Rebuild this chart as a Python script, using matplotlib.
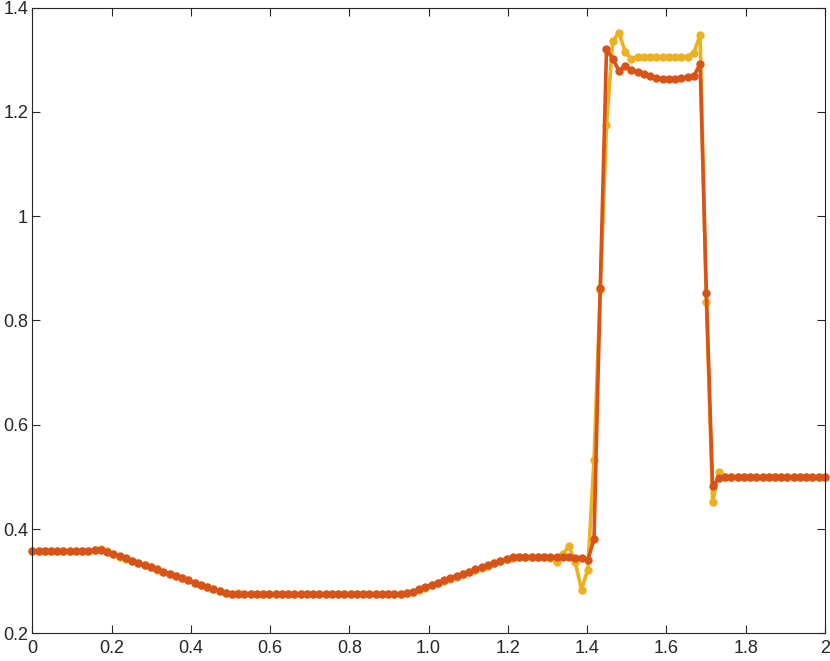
import numpy as np
import matplotlib.pyplot as plt

plt.rcParams['font.family'] = ['Liberation Sans', 'DejaVu Sans']

# grid: 128 points from 0 to 2
x = np.linspace(0, 2, 128)

# yellow series (drawn first)
y_yellow = [0.358, 0.358, 0.358, 0.358, 0.358, 0.358, 0.358, 0.358, 0.358, 0.358,
            0.360, 0.361,
            0.357, 0.352, 0.347, 0.343, 0.339, 0.335, 0.331, 0.3265, 0.3222, 0.318,
            0.314, 0.3097, 0.3055, 0.3013, 0.297, 0.2929, 0.2887, 0.2848, 0.2808, 0.2775, 0.2755,
            0.2772, 0.2760, 0.2757, 0.2757, 0.2757, 0.2757, 0.2757, 0.2757, 0.2757, 0.2757,
            0.2757, 0.2757, 0.2757, 0.2757, 0.2757, 0.2757, 0.2757, 0.2757, 0.2757, 0.2757,
            0.2757, 0.2757, 0.2757, 0.2757, 0.2757, 0.2757, 0.2757,
            0.2775, 0.2790, 0.2830, 0.2878, 0.2920, 0.2962, 0.3004, 0.3046, 0.3088, 0.3130,
            0.3172, 0.3214, 0.3256, 0.3298, 0.3340, 0.3380, 0.3418, 0.3450,
            0.3468, 0.3470, 0.3472, 0.3468, 0.3462, 0.3450,
            0.336, 0.352, 0.367, 0.336, 0.284, 0.322, 0.533, 0.858,
            1.174, 1.336, 1.352, 1.315, 1.301, 1.306, 1.306, 1.306, 1.306, 1.306,
            1.306, 1.306, 1.306, 1.306, 1.314, 1.347,
            0.835, 0.451, 0.510,
            0.500, 0.500, 0.500, 0.500, 0.500, 0.500, 0.500, 0.500, 0.500, 0.500,
            0.500, 0.500, 0.500, 0.500, 0.500, 0.500, 0.500]

# red series (on top)
y_red = [0.358, 0.358, 0.358, 0.358, 0.358, 0.358, 0.358, 0.358, 0.358, 0.358,
         0.359, 0.360,
         0.356, 0.352, 0.348, 0.3435, 0.3393, 0.3351, 0.3309, 0.3267, 0.3225, 0.3183,
         0.3141, 0.3099, 0.3057, 0.3015, 0.2973, 0.2931, 0.2890, 0.2850, 0.2812, 0.2780, 0.2762,
         0.2757, 0.2757, 0.2757, 0.2757, 0.2757, 0.2757, 0.2757, 0.2757, 0.2757, 0.2757,
         0.2757, 0.2757, 0.2757, 0.2757, 0.2757, 0.2757, 0.2757, 0.2757, 0.2757, 0.2757,
         0.2757, 0.2757, 0.2757, 0.2757, 0.2757, 0.2757, 0.2757,
         0.2765, 0.2800, 0.2845, 0.2890, 0.2932, 0.2974, 0.3016, 0.3058, 0.3100, 0.3142,
         0.3184, 0.3226, 0.3268, 0.3310, 0.3350, 0.3390, 0.3425, 0.3455,
         0.3465, 0.3465, 0.3465, 0.3465, 0.3465, 0.3463, 0.3460, 0.3458, 0.3455, 0.3452, 0.3450,
         0.340, 0.381, 0.862,
         1.320, 1.302, 1.279, 1.289, 1.280, 1.276, 1.272, 1.269, 1.266, 1.264,
         1.264, 1.264, 1.265, 1.267, 1.269, 1.292,
         0.852, 0.482, 0.497,
         0.500, 0.500, 0.500, 0.500, 0.500, 0.500, 0.500, 0.500, 0.500, 0.500,
         0.500, 0.500, 0.500, 0.500, 0.500, 0.500, 0.500]

xticks = [0, 0.2, 0.4, 0.6, 0.8, 1.0, 1.2, 1.4, 1.6, 1.8, 2]
xticklabels = ["0", "0.2", "0.4", "0.6", "0.8", "1.0", "1.2", "1.4", "1.6", "1.8", "2"]
yticks = [0.2, 0.4, 0.6, 0.8, 1.0, 1.2, 1.4]
yticklabels = ["0.2", "0.4", "0.6", "0.8", "1", "1.2", "1.4"]

fig = plt.figure(figsize=(8.3, 6.61), dpi=100)
ax = fig.add_axes([0.0389, 0.0419, 0.955, 0.9465])

ax.plot(x, y_yellow, color="#EDB120", linewidth=2.6, marker="o", markersize=5, clip_on=False)
ax.plot(x, y_red, color="#D95319", linewidth=2.6, marker="o", markersize=5, clip_on=False)

ax.set_xlim(0, 2)
ax.set_ylim(0.2, 1.4)
ax.set_xticks(xticks)
ax.set_xticklabels(xticklabels)
ax.set_yticks(yticks)
ax.set_yticklabels(yticklabels)

for s in ax.spines.values():
    s.set_color("#262626")
    s.set_linewidth(0.8)
ax.tick_params(direction="in", top=True, right=True, length=6, width=0.8,
               color="#262626", labelcolor="#262626", labelsize=13)
ax.tick_params(axis="x", pad=5)
ax.tick_params(axis="y", pad=3)

fig.savefig("out.png", dpi=100)
